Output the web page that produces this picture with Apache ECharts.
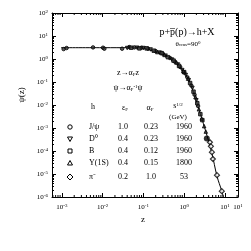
<!DOCTYPE html>
<html><head><meta charset="utf-8">
<script src="https://cdn.jsdelivr.net/npm/echarts@6/dist/echarts.min.js"></script>
<style>html,body{margin:0;padding:0;background:#fff}#c{width:251px;height:251px}</style>
</head><body><div id="c"></div>
<script>
// ---- data ----
var xTickExps = [-4, -3, -2, -1, 0, 1];
var yTickExps = [-6, -5, -4, -3, -2, -1, 0, 1];
var fitCurve = [[9.5e-4,3.1],[0.01,3.1],[0.05,3.1],[0.083,3.07],[0.19,2.06],[0.45,1.13],[0.78,0.46],[1.17,0.17],[1.55,0.057],[2.43,0.0048],[3.62,4.8e-4],[4.8,8e-5],[6.4,8.1e-6],[8.4,1.8e-6],[9.5,8e-7]];
var jpsi = [[1.1e-3,2.7],[1.3e-3,3.0],[5.8e-3,3.2],[0.0102,3.1],[0.011,2.8],[0.03,2.8],[0.045,3.3],[0.06,3.2],[0.09,3.1],[0.13,2.8],[0.2,2.2],[0.3,1.7],[0.45,1.1],[0.6,0.75],[0.8,0.45],[1.0,0.26],[1.2,0.16],[1.5,0.07],[1.8,0.028],[2.2,0.009]];
var d0 = [[0.04,3.0],[0.07,3.1],[0.1,3.0],[0.15,2.6],[0.25,1.9],[0.35,1.4],[0.5,0.95],[0.7,0.58],[0.9,0.33],[1.1,0.2],[1.3,0.12],[1.6,0.055],[2.0,0.016]];
var bmes = [[0.05,3.1],[0.08,2.9],[0.12,2.9],[0.18,2.3],[0.28,1.8],[0.4,1.2],[0.55,0.85],[0.75,0.5],[1.0,0.27],[1.4,0.09],[1.7,0.038],[2.1,0.012],[2.5,0.004],[2.8,0.0022]];
var ups = [[0.22,2.0],[0.33,1.5],[0.65,0.7],[0.95,0.3],[1.25,0.14],[1.9,0.022],[2.3,0.0065],[2.7,0.0026],[3.1,0.0012],[3.4,7e-4]];
var pim = [[4.29,2.4e-4],[4.54,1.6e-4],[4.8,8.9e-5],[5.08,4.5e-5],[6.4,8.9e-6],[8.4,1.8e-6]];
var bigDot = [[3.6,3.5e-4]];
var tableRows = [
  ['J/\u03c8','1.0','0.23','1960'],
  ['D\u2070','0.4','0.23','1960'],
  ['B','0.4','0.12','1960'],
  ['\u03a5(1S)','0.4','0.15','1800'],
  ['\u03c0\u207b','0.2','1.0','53']
];
// ---- chart ----
var F = 'Liberation Serif';
var chart = echarts.init(document.getElementById('c'), null, {renderer:'canvas'});
function powFmt(v){
  var e = Math.round(Math.log10(v));
  return '{b|10}{s|' + e + '}';
}
var rich = {b:{fontFamily:F,fontSize:7,color:'#000'}, s:{fontFamily:F,fontSize:5,color:'#000',verticalAlign:'top',padding:[0,0,3,0]}};
var minX = 5.7e-4, maxX = 21, minY = 1e-6, maxY = 100;
var common = {axisLine:{show:true,lineStyle:{color:'#000',width:1}}, splitLine:{show:false}, minorTick:{show:false}};
function xAx(pos, lab){
  return Object.assign({type:'log', logBase:10, min:minX, max:maxX, position:pos,
    axisTick:{show:true, inside:true, length:4, lineStyle:{color:'#000'}},
    axisLabel:{show:lab, formatter:powFmt, rich:rich, margin:6}}, common);
}
function yAx(pos, lab){
  return Object.assign({type:'log', logBase:10, min:minY, max:maxY, position:pos, interval:1,
    axisTick:{show:true, inside:true, length:4, lineStyle:{color:'#000'}},
    axisLabel:{show:lab, formatter:powFmt, rich:rich, margin:4}}, common);
}
// minor tick positions (2..9 x 10^n)
var xMinor = [], yMinor = [];
xTickExps.forEach(function(e){ for (var k=2;k<=9;k++){ var v=k*Math.pow(10,e); if (v>minX && v<maxX) xMinor.push([v, 1]); } });
yTickExps.forEach(function(e){ for (var k=2;k<=9;k++){ var v=k*Math.pow(10,e); if (v>minY && v<maxY) yMinor.push([1, v]); } });
function minorRender(isX){
  return function(params, api){
    var cs = params.coordSys;
    var L = 2;
    if (isX){
      var p = api.coord([api.value(0), 1]);
      var x = p[0], yb = cs.y + cs.height, yt = cs.y;
      return {type:'group', children:[
        {type:'line', shape:{x1:x,y1:yb,x2:x,y2:yb-L}, style:{stroke:'#000', lineWidth:1}},
        {type:'line', shape:{x1:x,y1:yt,x2:x,y2:yt+L}, style:{stroke:'#000', lineWidth:1}}
      ]};
    } else {
      var q = api.coord([1, api.value(1)]);
      var y = Math.round(q[1])+0.5, xl = cs.x, xr = cs.x + cs.width;
      return {type:'group', children:[
        {type:'line', shape:{x1:xl,y1:y,x2:xl+L,y2:y}, style:{stroke:'#000', lineWidth:1}},
        {type:'line', shape:{x1:xr,y1:y,x2:xr-L,y2:y}, style:{stroke:'#000', lineWidth:1}}
      ]};
    }
  };
}
var sym = {color:'#333', borderColor:'#000', borderWidth:1};
var symHollow = {color:'#fff', borderColor:'#000', borderWidth:1.2};
var option = {
  animation:false,
  backgroundColor:'#fff',
  grid:{left:52, right:13, top:13, bottom:54},
  xAxis:[xAx('bottom',true), xAx('top',false)],
  yAxis:[yAx('left',true), yAx('right',false)],
  series:[
    {type:'custom', data:xMinor, renderItem:minorRender(true), silent:true, clip:false, z:0},
    {type:'custom', data:yMinor, renderItem:minorRender(false), silent:true, clip:false, z:0},
    {type:'line', data:fitCurve, smooth:0.4, showSymbol:false, lineStyle:{color:'#000', width:1}, z:1},
    {type:'scatter', data:jpsi, symbol:'circle', symbolSize:3.5, itemStyle:sym, z:3},
    {type:'scatter', data:d0, symbol:'triangle', symbolRotate:180, symbolSize:3.5, itemStyle:sym, z:3},
    {type:'scatter', data:bmes, symbol:'rect', symbolSize:3.5, itemStyle:sym, z:3},
    {type:'scatter', data:ups, symbol:'triangle', symbolSize:3.5, itemStyle:sym, z:3},
    {type:'scatter', data:pim, symbol:'diamond', symbolSize:5, itemStyle:symHollow, z:3},
    {type:'scatter', data:bigDot, symbol:'circle', symbolSize:6, itemStyle:{color:'#000'}, z:3}
  ],
  graphic:[]
};
var g = option.graphic;
function txt(x,y,t,size,align){
  g.push({type:'text', x:x, y:y, style:{text:t, fontFamily:F, fontSize:size||8, fill:'#000', align:align||'center', verticalAlign:'middle'}});
}
function rtxt(x,y,t,size,align){
  g.push({type:'text', x:x, y:y, style:{text:t, fontFamily:F, fontSize:size||8, fill:'#000', align:align||'center', verticalAlign:'middle',
    rich:{n:{fontFamily:F,fontSize:size||8,fill:'#000'}, sb:{fontFamily:F,fontSize:5,fill:'#000',verticalAlign:'bottom'}, sp:{fontFamily:F,fontSize:5,fill:'#000',verticalAlign:'top'}}}});
}
// title
rtxt(187,32,'{n|p+p\u0305(p)\u2192h+X}',10);
rtxt(188,44,'{n|\u03b8}{sb|cms}{n|=90}{sp|0}',7);
rtxt(128,73,'{n|z\u2192\u03b1}{sb|F}{n|z}',8);
rtxt(128,88,'{n|\u03c8\u2192\u03b1}{sb|F}{sp|-1}{n|\u03c8}',8);
txt(93,107,'h',8);
rtxt(125,108,'{n|\u03b5}{sb|F}',8);
rtxt(150,108,'{n|\u03b1}{sb|F}',8);
rtxt(178,106,'{n|s}{sp|1/2}',8);
txt(178,117,'(GeV)',7);
var rowsY = [127,139,151,163,177];
for (var i=0;i<tableRows.length;i++){
  txt(89,rowsY[i],tableRows[i][0],8,'left');
  txt(123,rowsY[i],tableRows[i][1],8);
  txt(151,rowsY[i],tableRows[i][2],8);
  txt(184,rowsY[i],tableRows[i][3],8);
}
// legend symbols
var sx=70;
g.push({type:'circle', shape:{cx:sx, cy:rowsY[0], r:2.2}, style:{fill:'#fff', stroke:'#000', lineWidth:1}});
g.push({type:'polygon', shape:{points:[[sx-2.5,rowsY[1]-2],[sx+2.5,rowsY[1]-2],[sx,rowsY[1]+2.5]]}, style:{fill:'#fff', stroke:'#000', lineWidth:1}});
g.push({type:'rect', shape:{x:sx-2, y:rowsY[2]-2, width:4, height:4}, style:{fill:'#fff', stroke:'#000', lineWidth:1}});
g.push({type:'polygon', shape:{points:[[sx-2.5,rowsY[3]+2],[sx+2.5,rowsY[3]+2],[sx,rowsY[3]-2.5]]}, style:{fill:'#fff', stroke:'#000', lineWidth:1}});
g.push({type:'polygon', shape:{points:[[sx,rowsY[4]-3],[sx+3,rowsY[4]],[sx,rowsY[4]+3],[sx-3,rowsY[4]]]}, style:{fill:'#fff', stroke:'#000', lineWidth:1}});
// axis titles
g.push({type:'text', x:22, y:95, rotation:Math.PI/2, style:{text:'\u03c8(z)', fontFamily:F, fontSize:9, fill:'#000', align:'center', verticalAlign:'middle'}});
txt(143,220,'z',9);
chart.setOption(option);
</script></body></html>
